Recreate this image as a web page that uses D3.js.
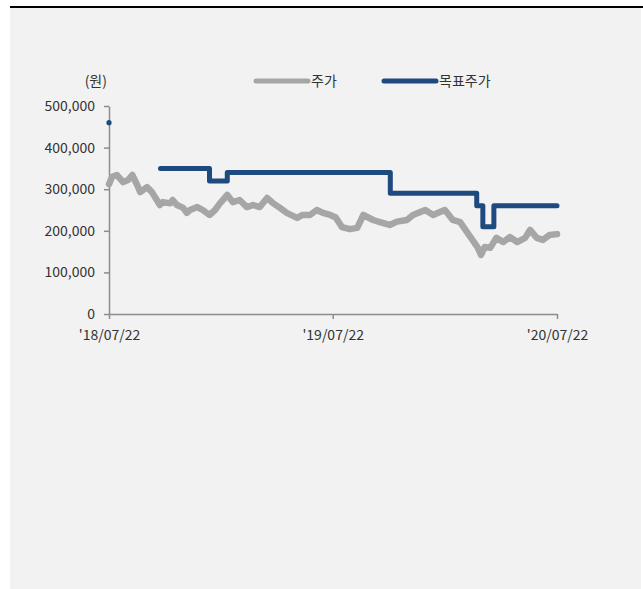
<!DOCTYPE html>
<html>
<head>
<meta charset="utf-8">
<script src="https://cdn.jsdelivr.net/npm/d3@7"></script>
<style>
  body { margin: 0; background: #fff; }
  svg, svg text { font-family: "Noto Sans CJK KR", "Noto Sans", sans-serif; }
  .axis path, .axis line { stroke: #8c8c8c; stroke-width: 1.5; }
  .axis text { fill: #333; font-size: 14px; font-family: "Noto Sans CJK KR", "Noto Sans", sans-serif; }
</style>
</head>
<body>
<script>
// 주가 (daily close)
var priceDates = ["2018-07-22","2018-07-27","2018-08-04","2018-08-14","2018-08-22","2018-08-29","2018-09-06","2018-09-11",
  "2018-09-22","2018-09-30","2018-10-08","2018-10-13","2018-10-18","2018-10-30","2018-11-03","2018-11-10","2018-11-20",
  "2018-11-26","2018-12-01","2018-12-13","2018-12-22","2019-01-02","2019-01-11","2019-01-19","2019-01-31","2019-02-09",
  "2019-02-20","2019-03-04","2019-03-14","2019-03-25","2019-04-06","2019-04-16","2019-04-27","2019-05-08","2019-05-25",
  "2019-06-03","2019-06-15","2019-06-26","2019-07-06","2019-07-18","2019-07-27","2019-08-06","2019-08-19","2019-08-31",
  "2019-09-10","2019-09-26","2019-10-07","2019-10-23","2019-11-04","2019-11-20","2019-11-30","2019-12-20","2020-01-02",
  "2020-01-13","2020-01-21","2020-02-03","2020-02-15","2020-02-26","2020-03-06","2020-03-15","2020-03-20","2020-03-26",
  "2020-04-04","2020-04-14","2020-04-25","2020-05-06","2020-05-18","2020-05-31","2020-06-08","2020-06-19","2020-06-29",
  "2020-07-10","2020-07-22"]
var priceValues = [312000,330000,334000,317000,322000,334000,310000,293000,
  305000,293000,274000,262000,269000,266000,274000,262000,255000,
  243000,250000,257000,250000,238000,250000,266000,286000,269000,
  274000,257000,262000,257000,279000,266000,255000,243000,231000,
  238000,238000,250000,243000,238000,232000,209000,204000,207000,
  238000,226000,221000,214000,222000,226000,238000,250000,238000,
  245000,250000,226000,221000,197000,178000,159000,142000,161000,
  159000,183000,173000,185000,173000,183000,202000,183000,178000,
  190000,192000]

// 목표주가 (step changes)
var targetDates = ["2018-07-22","2018-07-23","2018-10-14","2019-01-02","2019-01-31","2019-10-24","2020-03-13","2020-03-23","2020-04-10","2020-07-22"]
var targetValues = [460000,null,350000,320000,340000,290000,260000,210000,260000,260000]

var yTicks = [0,100000,200000,300000,400000,500000]
var xTicks = ["2018-07-22","2019-07-22","2020-07-22"]
var seriesNames = ["주가","목표주가"]
var seriesColors = ["#a6a6a6","#1f4a7f"]

var parse = d3.timeParse("%Y-%m-%d")
var price = priceDates.map(function(d, i) { return { date: parse(d), value: priceValues[i] } })
var target = targetDates.map(function(d, i) { return { date: parse(d), value: targetValues[i] } })

var svg = d3.select("body").append("svg")
    .attr("width", 643)
    .attr("height", 589)

svg.append("rect").attr("x", 10).attr("y", 8).attr("width", 631).attr("height", 581).attr("fill", "#f2f2f2")
svg.append("rect").attr("x", 10).attr("y", 6).attr("width", 633).attr("height", 2).attr("fill", "#000")

var x = d3.scaleTime()
    .domain([parse(xTicks[0]), parse(xTicks[2])])
    .range([109, 557])
var y = d3.scaleLinear()
    .domain([0, 500000])
    .range([314, 106])

svg.append("g")
    .attr("class", "axis")
    .attr("transform", "translate(109,0)")
    .call(d3.axisLeft(y).tickValues(yTicks).tickFormat(d3.format(",")).tickSize(5).tickSizeOuter(0).tickPadding(9))

svg.append("g")
    .attr("class", "axis")
    .attr("transform", "translate(0,314)")
    .call(d3.axisBottom(x).tickValues(xTicks.map(parse)).tickFormat(d3.timeFormat("'%y/%m/%d")).tickSize(5).tickSizeOuter(0).tickPadding(11))

svg.selectAll(".axis").attr("font-family", null)

var priceLine = d3.line()
    .x(function(d) { return x(d.date) })
    .y(function(d) { return y(d.value) })

svg.append("path")
    .datum(price)
    .attr("fill", "none")
    .attr("stroke", seriesColors[0])
    .attr("stroke-width", 6.5)
    .attr("stroke-linejoin", "round")
    .attr("stroke-linecap", "round")
    .attr("d", priceLine)

var targetLine = d3.line()
    .defined(function(d) { return d.value != null })
    .curve(d3.curveStepAfter)
    .x(function(d) { return x(d.date) })
    .y(function(d) { return y(d.value) })

svg.append("path")
    .datum(target.slice(2))
    .attr("fill", "none")
    .attr("stroke", seriesColors[1])
    .attr("stroke-width", 5)
    .attr("stroke-linejoin", "round")
    .attr("stroke-linecap", "round")
    .attr("d", targetLine)

svg.append("circle")
    .attr("cx", x(target[0].date))
    .attr("cy", y(target[0].value))
    .attr("r", 2.6)
    .attr("fill", seriesColors[1])

// unit + legend
svg.append("text")
    .attr("x", 107).attr("y", 86)
    .attr("text-anchor", "end")
    .attr("fill", "#333")
    .style("font-size", "14px")
    .text("(원)")

var legendX = [256, 384]
var legend = svg.selectAll(".legend")
    .data(seriesNames)
    .enter().append("g")
    .attr("class", "legend")
    .attr("transform", function(d, i) { return "translate(" + legendX[i] + ",81)" })

legend.append("line")
    .attr("x1", 0).attr("x2", 52)
    .attr("stroke", function(d, i) { return seriesColors[i] })
    .attr("stroke-width", 5)
    .attr("stroke-linecap", "round")

legend.append("text")
    .attr("x", 55).attr("y", 5)
    .attr("fill", "#333")
    .style("font-size", "14px")
    .text(function(d) { return d })
</script>
</body>
</html>
